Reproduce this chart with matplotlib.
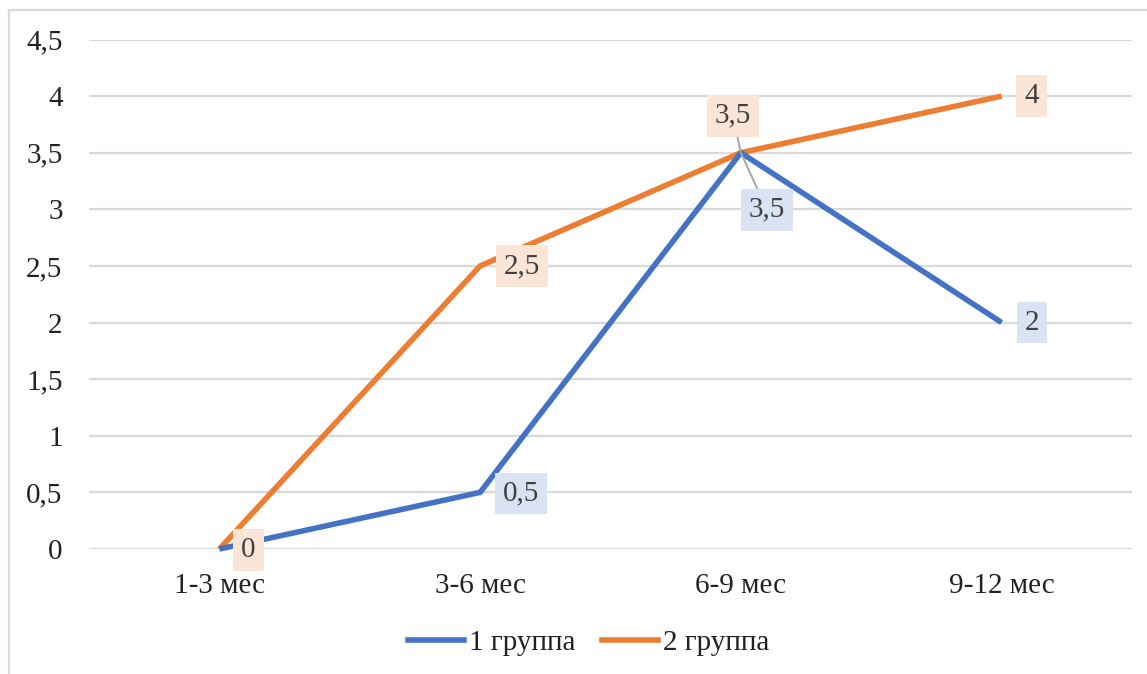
import matplotlib.pyplot as plt
from matplotlib.lines import Line2D

# data
periods = ['1-3 мес', '3-6 мес', '6-9 мес', '9-12 мес']
group1 = [0, 0.5, 3.5, 2]
group2 = [0, 2.5, 3.5, 4]
series_names = ['1 группа', '2 группа']
yticks = [0, 0.5, 1, 1.5, 2, 2.5, 3, 3.5, 4, 4.5]

blue = '#4472C4'
orange = '#ED7D31'
blue_fill = '#DAE3F3'
orange_fill = '#FBE5D6'
grid_col = '#D9D9D9'

plt.rcParams['font.family'] = ['Liberation Serif', 'DejaVu Serif']
fs = 21

W, H = 1147, 674
fig = plt.figure(figsize=(W / 100, H / 100), dpi=100)
ax = fig.add_axes([89 / W, 1 - 549 / H, (1132 - 89) / W, (549 - 39.5) / H])

x = list(range(len(periods)))
ax.plot(x, group2, color=orange, lw=4, solid_capstyle='butt', clip_on=False, zorder=3)
ax.plot(x, group1, color=blue, lw=4, solid_capstyle='butt', clip_on=False, zorder=3)

ax.set_xlim(-0.5, len(periods) - 0.5)
ax.set_ylim(0, 4.5)
ax.set_yticks(yticks)
ax.set_yticklabels([f'{v:g}'.replace('.', ',') for v in yticks], fontsize=fs)
ax.set_xticks(x)
ax.set_xticklabels(periods, fontsize=fs)
ax.tick_params(axis='both', length=0, colors='#222222')
ax.tick_params(axis='y', pad=19)
ax.tick_params(axis='x', pad=17)
ax.grid(axis='y', color=grid_col, lw=1.6)
ax.set_axisbelow(True)
for s in ax.spines.values():
    s.set_visible(False)


def label(xi, yi, fill, dx, dy, leader=False):
    txt = f'{yi:g}'.replace('.', ',')
    kw = dict(textcoords='offset pixels', ha='center', va='center', fontsize=fs,
              color='#404040', zorder=5, annotation_clip=False,
              bbox=dict(boxstyle='square,pad=0.27', fc=fill, ec='none'))
    if leader:
        kw['arrowprops'] = dict(arrowstyle='-', color='#A6A6A6', lw=1.4,
                                shrinkA=0, shrinkB=0)
    ax.annotate(txt, (xi, yi), xytext=(dx, dy), **kw)


# blue labels
label(1, group1[1], blue_fill, 41, -1)
label(2, group1[2], blue_fill, 26, -57, leader=True)
label(3, group1[3], blue_fill, 30, 0)
# orange labels
label(0, group2[0], orange_fill, 29, -1)
label(1, group2[1], orange_fill, 42, 0)
label(2, group2[2], orange_fill, -8, 37, leader=True)
label(3, group2[3], orange_fill, 30, 0)

handles = [Line2D([], [], color=blue, lw=4), Line2D([], [], color=orange, lw=4)]
fig.legend(handles, series_names, loc='center', bbox_to_anchor=(589 / W, 1 - 643 / H),
           ncol=2, frameon=False, fontsize=fs, handlelength=1.9, handletextpad=0.2,
           columnspacing=0.9, labelcolor='#222222')

# outer chart frame
fig.add_artist(Line2D([8.5 / W, 8.5 / W], [0, 1 - 10 / H], color=grid_col, lw=1.6))
fig.add_artist(Line2D([8.5 / W, 1], [1 - 10 / H, 1 - 10 / H], color=grid_col, lw=1.6))

fig.savefig('out.png', dpi=100)
